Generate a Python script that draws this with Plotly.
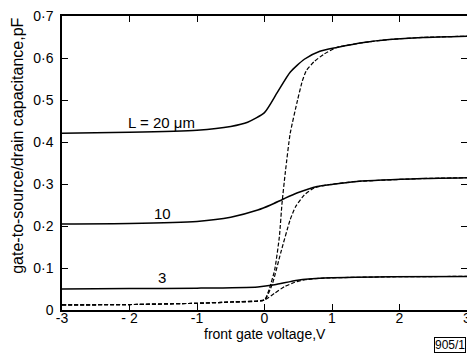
import plotly.graph_objects as go

# ---- data ----
x_ticks = [-3, -2, -1, 0, 1, 2, 3]
x_ticktext = ["-3", "- 2", "-1", "0", "1", "2", "3"]
y_ticks = [0, 0.1, 0.2, 0.3, 0.4, 0.5, 0.6, 0.7]
y_ticktext = ["0", "0·1", "0·2", "0·3", "0·4", "0·5", "0·6", "0·7"]

# solid curves
s20_v = [-3, -2, -1, -0.5, -0.25, 0, 0.19, 0.38, 0.59, 0.82, 1.07, 1.47, 1.85, 2.35, 3]
s20_c = [0.421, 0.423, 0.428, 0.437, 0.447, 0.47, 0.518, 0.566, 0.597, 0.616, 0.625, 0.637, 0.644, 0.649, 0.652]

s10_v = [-3, -2, -1, -0.5, -0.1, 0.09, 0.29, 0.49, 0.78, 1.0, 1.37, 2.35, 3]
s10_c = [0.205, 0.206, 0.211, 0.221, 0.238, 0.25, 0.265, 0.279, 0.294, 0.299, 0.306, 0.313, 0.315]

s3_v = [-3, -2, -1, -0.1, 0.15, 0.49, 0.88, 1.85, 3]
s3_c = [0.05, 0.051, 0.052, 0.055, 0.06, 0.071, 0.076, 0.079, 0.08]

# dashed curves
d20_v = [-3, -2, -1, -0.5, 0, 0.06, 0.15, 0.22, 0.26, 0.31, 0.38, 0.49, 0.56, 0.62, 0.74, 0.88, 1.07, 1.47, 1.85, 2.35, 3]
d20_c = [0.012, 0.013, 0.016, 0.019, 0.024, 0.045, 0.095, 0.174, 0.255, 0.33, 0.42, 0.50, 0.545, 0.570, 0.592, 0.609, 0.625, 0.637, 0.644, 0.649, 0.652]

d10_v = [-3, -2, -1, -0.5, 0, 0.12, 0.24, 0.38, 0.46, 0.59, 0.74, 0.93, 1.37, 2.35, 3]
d10_c = [0.012, 0.013, 0.016, 0.019, 0.024, 0.064, 0.136, 0.215, 0.246, 0.274, 0.291, 0.298, 0.306, 0.313, 0.315]

d3_v = [-3, -2, -1, -0.5, 0, 0.15, 0.3, 0.45, 0.6, 0.88, 1.85, 3]
d3_c = [0.012, 0.013, 0.016, 0.019, 0.024, 0.04, 0.056, 0.066, 0.072, 0.076, 0.079, 0.08]

labels = ["L = 20 μm", "10", "3"]
label_pos = [(-2.05, 0.446), (-1.67, 0.229), (-1.61, 0.078)]

FONT = "Liberation Sans"
fig = go.Figure()

for v, c in [(s20_v, s20_c), (s10_v, s10_c), (s3_v, s3_c)]:
    fig.add_trace(go.Scatter(x=v, y=c, mode="lines",
                             line=dict(color="black", width=1.5, shape="spline", smoothing=0.6),
                             showlegend=False, hoverinfo="skip"))
for v, c in [(d20_v, d20_c), (d10_v, d10_c), (d3_v, d3_c)]:
    fig.add_trace(go.Scatter(x=v, y=c, mode="lines",
                             line=dict(color="black", width=1.2, dash="4px,2px", shape="spline", smoothing=0.5),
                             showlegend=False, hoverinfo="skip"))

for t, (lx, ly) in zip(labels, label_pos):
    fig.add_annotation(x=lx, y=ly, text=t, showarrow=False, xanchor="left", yanchor="middle",
                       font=dict(family=FONT, size=15, color="black"))

# axis titles as annotations (positioned like the reference)
fig.add_annotation(xref="paper", yref="y", x=0, y=0.391, xshift=-44, textangle=-90,
                   text="gate-to-source/drain capacitance,pF", showarrow=False,
                   xanchor="center", yanchor="middle",
                   font=dict(family=FONT, size=16, color="black"))
fig.add_annotation(xref="paper", yref="paper", x=0.5, y=0, yshift=-24,
                   text="front gate voltage,V", showarrow=False,
                   xanchor="center", yanchor="middle",
                   font=dict(family=FONT, size=14, color="black"))

fig.add_annotation(xref="paper", yref="paper", x=1.0, y=0, yshift=-35, xshift=-1, text="905/1", showarrow=False,
                   xanchor="right", yanchor="middle", bordercolor="black", borderwidth=1, borderpad=0,
                   font=dict(family=FONT, size=12, color="black"))

fig.update_layout(
    width=467, height=356,
    margin=dict(l=62, r=0, t=16, b=46),
    paper_bgcolor="white", plot_bgcolor="white",
    font=dict(family=FONT, size=14, color="black"),
    xaxis=dict(range=[-3, 3], tickvals=x_ticks, ticktext=x_ticktext, automargin=False,
               ticks="inside", ticklen=6, tickwidth=1.2, tickcolor="black",
               showline=True, linecolor="black", linewidth=1.5, mirror="ticks",
               showgrid=False, zeroline=False, ticklabeloverflow="allow",
               ticklabelstandoff=-6, tickfont=dict(size=14)),
    yaxis=dict(range=[0, 0.7], tickvals=y_ticks, ticktext=y_ticktext, automargin=False,
               ticks="inside", ticklen=6, tickwidth=1.2, tickcolor="black",
               showline=True, linecolor="black", linewidth=1.5, mirror="ticks",
               showgrid=False, zeroline=False, ticklabelstandoff=4, ticklabeloverflow="allow",
               tickfont=dict(size=14)),
)

# remove the default page margin so the figure fills the window exactly
fig.write_html("out.html", config={"displayModeBar": False},
               post_script="document.body.style.margin='0';document.body.style.overflow='hidden';")
